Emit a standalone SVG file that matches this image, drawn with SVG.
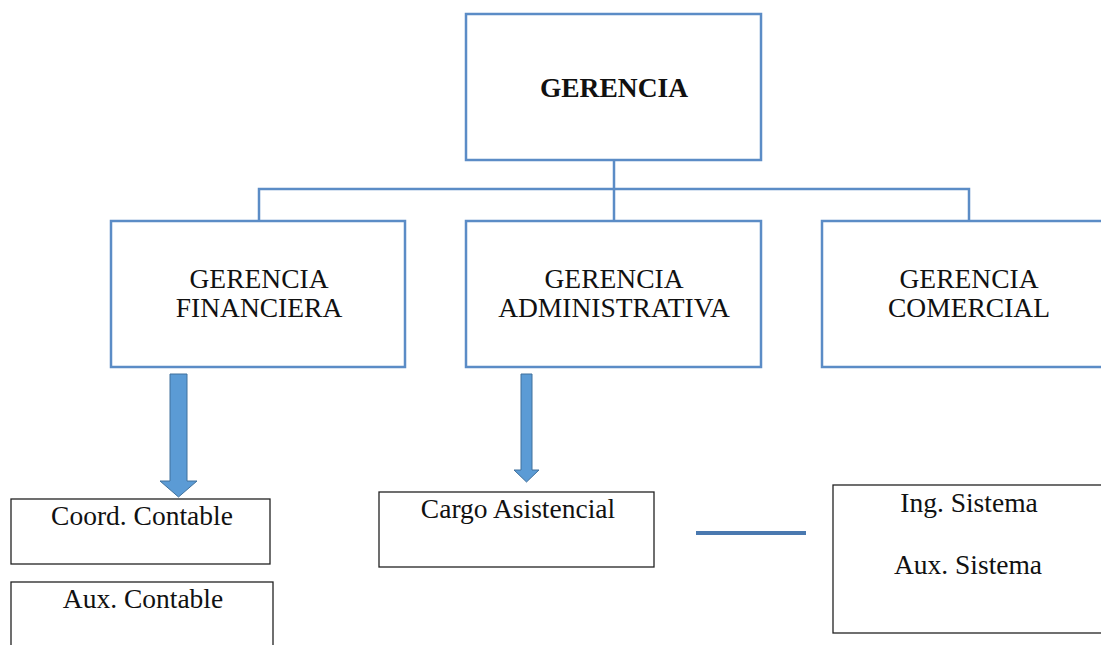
<svg xmlns="http://www.w3.org/2000/svg" width="1101" height="645" viewBox="0 0 1101 645">
<style>
.bx{fill:#fff;stroke:#5b8cc6;stroke-width:2.5}
.sb{fill:#fff;stroke:#222;stroke-width:1.3}
.ln{fill:none;stroke:#5b8cc6;stroke-width:2.5}
.ar{fill:#5b9bd5;stroke:#41719c;stroke-width:1}
text{font-family:"Liberation Serif","Times New Roman",serif;font-size:27.5px;fill:#111;text-anchor:middle}
.b{font-weight:bold}
</style>
<rect width="1101" height="645" fill="#fff"/>
<g id="connectors">
<path class="ln" d="M614,160 V189 M259,221 V189 H969 V221 M614,189 V221"/>
<path class="ar" d="M170,374 H187 V481 H197 L178.5,497 L160,481 H170 Z"/>
<path class="ar" d="M521,374 H532 V470 H539 L526.5,482 L514,470 H521 Z"/>
<line x1="696" y1="533" x2="806" y2="533" stroke="#4a79b0" stroke-width="4"/>
</g>
<g id="gerencia">
<rect class="bx" x="466" y="14" width="295" height="146"/>
<text class="b" x="614" y="97">GERENCIA</text>
</g>
<g id="financiera">
<rect class="bx" x="111" y="221" width="294" height="146"/>
<text x="259" y="288">GERENCIA</text>
<text x="259" y="317">FINANCIERA</text>
</g>
<g id="administrativa">
<rect class="bx" x="466" y="221" width="295" height="146"/>
<text x="614" y="288">GERENCIA</text>
<text x="614" y="317">ADMINISTRATIVA</text>
</g>
<g id="comercial">
<rect class="bx" x="822" y="221" width="294" height="146"/>
<text x="969" y="288">GERENCIA</text>
<text x="969" y="317">COMERCIAL</text>
</g>
<g id="coord">
<rect class="sb" x="11" y="499" width="259" height="65"/>
<text x="142" y="525">Coord. Contable</text>
</g>
<g id="aux">
<rect class="sb" x="11" y="582" width="262" height="70"/>
<text x="143" y="608">Aux. Contable</text>
</g>
<g id="cargo">
<rect class="sb" x="379" y="492" width="275" height="75"/>
<text x="518" y="518">Cargo Asistencial</text>
</g>
<g id="sistema">
<rect class="sb" x="833" y="485" width="280" height="148"/>
<text x="969" y="512">Ing. Sistema</text>
<text x="968" y="574">Aux. Sistema</text>
</g>
</svg>
